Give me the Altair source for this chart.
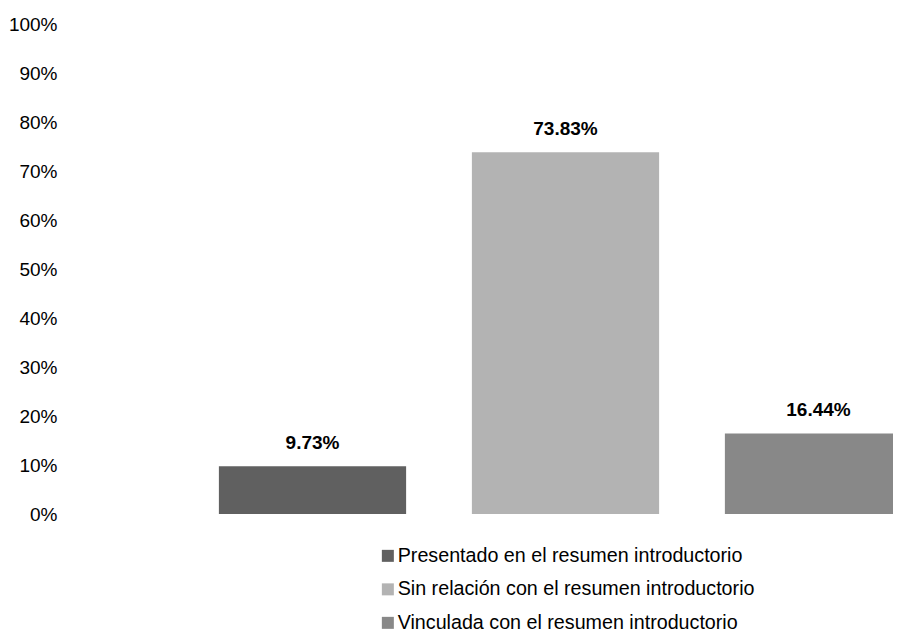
import altair as alt
import pandas as pd

categories = [
    "Presentado en el resumen introductorio",
    "Sin relación con el resumen introductorio",
    "Vinculada con el resumen introductorio",
]
values = [0.0973, 0.7383, 0.1644]
labels = ["9.73%", "73.83%", "16.44%"]
colors = ["#606060", "#b3b3b3", "#888888"]
y_ticks = [0, 0.1, 0.2, 0.3, 0.4, 0.5, 0.6, 0.7, 0.8, 0.9, 1.0]

df = pd.DataFrame({"cat": categories, "val": values, "lab": labels})

FONT = "Liberation Sans Narrow, Liberation Sans, Arial"

x = alt.X(
    "cat:N",
    sort=categories,
    axis=None,
    scale=alt.Scale(range=[121, 880], paddingInner=0.26, paddingOuter=0.13),
)
y = alt.Y(
    "val:Q",
    scale=alt.Scale(domain=[0, 1]),
    axis=alt.Axis(
        format=".0%",
        values=y_ticks,
        grid=False,
        domain=False,
        ticks=False,
        labelPadding=8,
        labelFontSize=19,
        labelColor="black",
        labelFont=FONT,
        title=None,
    ),
)

color = alt.Color(
    "cat:N",
    sort=categories,
    scale=alt.Scale(domain=categories, range=colors),
    legend=alt.Legend(
        title=None,
        orient="none",
        legendX=313,
        legendY=522,
        symbolType="square",
        symbolSize=144,
        symbolStrokeWidth=0,
        symbolOpacity=1,
        labelFontSize=19.7,
        labelFont=FONT,
        labelColor="black",
        labelLimit=600,
        labelOffset=0,
        rowPadding=12.5,
    ),
)

bars = alt.Chart(df).mark_bar(clip=True, opacity=1).encode(x=x, y=y, color=color)
text = alt.Chart(df).mark_text(
    dy=-13, baseline="bottom", fontWeight="bold", fontSize=19, font=FONT, color="black"
).encode(x=x, y="val:Q", text="lab:N")

chart = (
    alt.layer(bars, text)
    .properties(
        width=828,
        height=490,
        autosize=alt.AutoSizeParams(type="none"),
        padding={"left": 57, "top": 16, "right": 0, "bottom": 121},
    )
    .configure_view(stroke=None)
)

chart.save("out.html", embed_options={"renderer": "svg", "actions": False})
